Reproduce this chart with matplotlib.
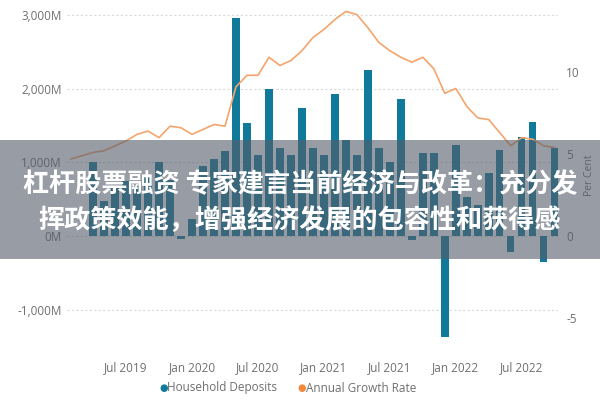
import matplotlib
matplotlib.use('Agg')
import matplotlib.pyplot as plt
from matplotlib.patches import Rectangle

# ---- data ----
bar_idx = list(range(0, 43))
deposits = [1000, 480, 650, 750, 680, 800, 1000, 760, -40, 230,
            950, 1050, 1150, 2960, 1530, 1100, 1990, 1200, 1100, 1736,
            1200, 1100, 1925, 1300, 1100, 2250, 1200, 1000, 1860, -50,
            1120, 1120, -1370, 1230, 530, 420, 850, 1170, -220, 1340,
            1546, -350, 1190]
line_idx = list(range(-2, 43))
growth = [4.7, 4.9, 5.1, 5.2, 5.5, 5.8, 6.2, 6.4, 6.0, 6.7,
          6.6, 6.2, 6.5, 6.8, 6.7, 9.1, 9.8, 9.8, 10.9, 10.4,
          10.7, 11.3, 12.1, 12.6, 13.2, 13.7, 13.5, 12.7, 11.8, 11.3,
          10.9, 10.6, 10.9, 10.2, 8.7, 9.0, 7.9, 7.2, 7.1, 6.3,
          5.5, 6.0, 5.9, 5.5, 5.4]
tick_pos = [3, 9, 15, 21, 27, 33, 39]
tick_labels = ['Jul 2019', 'Jan 2020', 'Jul 2020', 'Jan 2021',
               'Jul 2021', 'Jan 2022', 'Jul 2022']
left_ticks = [-1000, 0, 1000, 2000, 3000]
left_labels = ['-1,000M', '0M', '1,000M', '2,000M', '3,000M']
right_ticks = [-5, 0, 5, 10]
right_labels = ['-5', '0', '5', '10']
title_lines = ['杠杆股票融资 专家建言当前经济与改革：充分发',
               '挥政策效能，增强经济发展的包容性和获得感']

bar_color = '#11799A'
line_color = '#F4A46C'
txt_gray = '#6f6f6f'

plt.rcParams['font.family'] = ['Open Sans', 'DejaVu Sans']

fig = plt.figure(figsize=(6, 4), dpi=100)
ax = fig.add_axes([0.112, 0.15, 0.818, 0.825])
ax.bar(bar_idx, deposits, width=0.68, color=bar_color, zorder=2)
ax.set_xlim(-2.36, 42.3)
ax.set_ylim(-1410, 3065)
ax.set_yticks(left_ticks)
ax.set_yticklabels(left_labels)
ax.set_xticks(tick_pos)
ax.set_xticklabels(tick_labels)
ax.tick_params(length=0, labelsize=8.5, colors=txt_gray, pad=4)
ax.tick_params(axis='x', pad=15)
ax.grid(axis='y', linestyle=(0, (2, 2)), color='#d9d9d9', linewidth=0.8, zorder=0)
for s in ax.spines.values():
    s.set_visible(False)

ax2 = ax.twinx()
ax2.plot(line_idx, growth, color=line_color, linewidth=1.2, zorder=3)
ax2.set_ylim(-1410 / 222.4, 3065 / 222.4)
ax2.set_yticks(right_ticks)
ax2.set_yticklabels(right_labels)
ax2.tick_params(length=0, labelsize=8.5, colors=txt_gray, pad=6)
ax2.set_ylabel('Per Cent', color=txt_gray, fontsize=7.5, labelpad=3)
for s in ax2.spines.values():
    s.set_visible(False)

# legend
fig.text(0.272, 0.03, '●', color=bar_color, fontsize=7, ha='center', va='center')
fig.text(0.279, 0.03, 'Household Deposits', color=txt_gray, fontsize=8.5, ha='left', va='center')
fig.text(0.503, 0.03, '●', color='#F08A3C', fontsize=7, ha='center', va='center')
fig.text(0.510, 0.03, 'Annual Growth Rate', color=txt_gray, fontsize=8.5, ha='left', va='center')

# banner overlay
fig.patches.append(Rectangle((0, (400 - 259) / 400), 1, 119 / 400,
                             transform=fig.transFigure, facecolor=(0.33, 0.36, 0.41),
                             alpha=0.6, edgecolor='none', zorder=10))
fig.text(0.5, (400 - 185) / 400, title_lines[0], ha='center', va='center',
         color='white', fontsize=18.8, fontweight='bold',
         family=['Noto Sans CJK SC', 'DejaVu Sans'], zorder=11)
fig.text(0.5, (400 - 221) / 400, title_lines[1], ha='center', va='center',
         color='white', fontsize=18.8, fontweight='bold',
         family=['Noto Sans CJK SC', 'DejaVu Sans'], zorder=11)

fig.savefig('out.png', dpi=100)
